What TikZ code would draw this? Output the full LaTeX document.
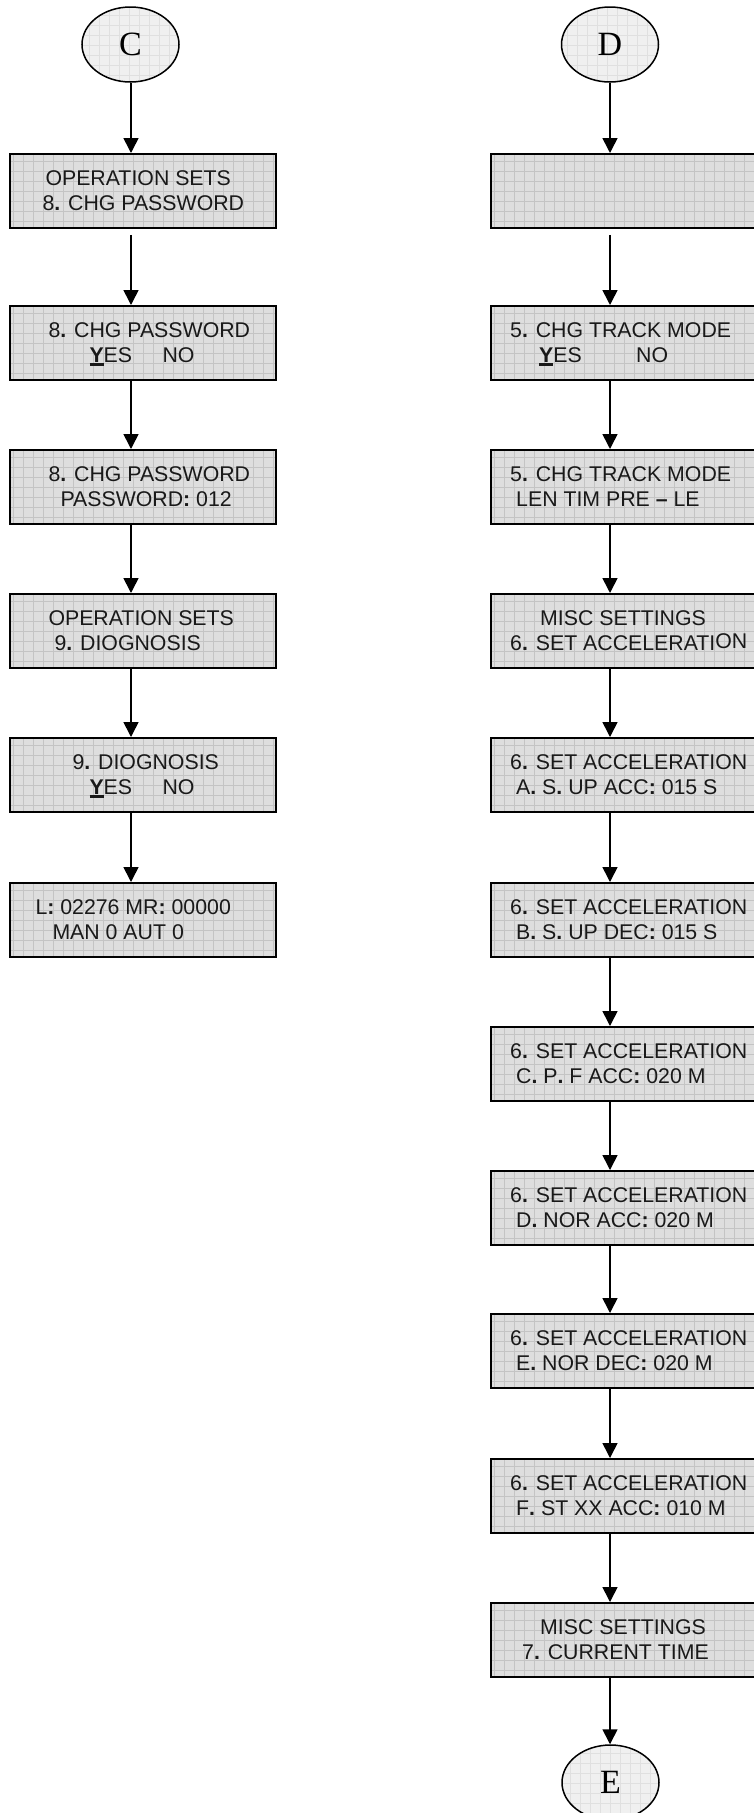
\documentclass[tikz,border=0pt]{standalone}
\usepackage{fontspec}
\setmainfont{Liberation Sans}
\newfontfamily\connfont{Liberation Serif}
\usetikzlibrary{arrows.meta,shapes.geometric}

% underlined bold "Y" used for the YES option
\newcommand\ulY{\setbox0\hbox{\textbf{Y}}\rlap{\rule[-3.5pt]{\wd0}{2.6pt}}\box0}
% bold punctuation as shown on the panel display
\newcommand\bp{\textbf{.}}
\newcommand\bc{\textbf{:}}

% two text lines inside a display box: #1 box, #2/#4 left offsets, #3/#5 texts
\newcommand\twolines[5]{%
  \node[txt] (#1-a) at ([xshift=#2pt,yshift=-32pt]#1.north west) {#3};
  \node[txt] (#1-b) at ([xshift=#4pt,yshift=-57pt]#1.north west) {#5};
}

\tikzset{
  screen/.style={draw=black, line width=1.8pt, fill=black!13,
    minimum width=266pt, minimum height=74pt, inner sep=0pt, anchor=north west,
    path picture={\draw[black!23, line width=0.7pt, step=10pt]
      (path picture bounding box.south west) grid (path picture bounding box.north east);}},
  connector/.style={ellipse, draw=black, line width=1.5pt, fill=black!6,
    minimum width=97pt, minimum height=75pt, inner sep=0pt,
    font=\connfont\fontsize{34pt}{36pt}\selectfont,
    path picture={\draw[black!12, line width=0.6pt, step=10pt]
      (path picture bounding box.south west) grid (path picture bounding box.north east);}},
  txt/.style={anchor=base west, inner sep=0pt, font=\fontsize{21.3pt}{25pt}\selectfont, text=black!90},
  flow/.style={draw=black, line width=1.6pt, -{Triangle[length=15pt,width=15pt]}},
}

\begin{document}
\begin{tikzpicture}[x=1pt,y=-1pt]
  \fill[white] (0,0) rectangle (754,1813);
  \useasboundingbox (0,0) rectangle (754,1813);

  \coordinate (colL) at (131,0);
  \coordinate (colR) at (610,0);

  % ---- left column: password change and diagnosis ----
  \node[connector] (C) at (130.5,44.5) {C};
  \node[screen] (L1) at (9.3,153) {};
  \node[screen] (L2) at (9.3,305) {};
  \node[screen] (L3) at (9.3,449) {};
  \node[screen] (L4) at (9.3,593) {};
  \node[screen] (L5) at (9.3,737) {};
  \node[screen] (L6) at (9.3,882) {};

  \twolines{L1}{36}{OPERATION SETS}{33}{8\bp{} CHG PASSWORD}
  \twolines{L2}{39}{8\bp{} CHG PASSWORD}{80}{\ulY ES\hspace{30.4pt}NO}
  \twolines{L3}{39}{8\bp{} CHG PASSWORD}{51}{PASSWORD\bc{} 012}
  \twolines{L4}{39}{OPERATION SETS}{45}{9\bp{} DIOGNOSIS}
  \twolines{L5}{63}{9\bp{} DIOGNOSIS}{80}{\ulY ES\hspace{30.4pt}NO}
  \twolines{L6}{26}{L\bc{} 02276 MR\bc{} 00000}{43}{MAN 0 AUT 0}

  \draw[flow] (C.south -| colL) -- (L1.north -| colL);
  \draw[flow] ([yshift=-6pt]L1.south -| colL) -- (L2.north -| colL);
  \draw[flow] (L2.south -| colL) -- (L3.north -| colL);
  \draw[flow] (L3.south -| colL) -- (L4.north -| colL);
  \draw[flow] (L4.south -| colL) -- (L5.north -| colL);
  \draw[flow] (L5.south -| colL) -- (L6.north -| colL);

  % ---- right column: track mode and acceleration settings ----
  \node[connector] (D) at (610,44.5) {D};
  \node[screen] (R1) at (490,153) {};
  \node[screen] (R2) at (490,305) {};
  \node[screen] (R3) at (490,449) {};
  \node[screen] (R4) at (490,593) {};
  \node[screen] (R5) at (490,737) {};
  \node[screen] (R6) at (490,882) {};
  \node[screen] (R7) at (490,1026) {};
  \node[screen] (R8) at (490,1170) {};
  \node[screen] (R9) at (490,1313) {};
  \node[screen] (R10) at (490,1458) {};
  \node[screen] (R11) at (490,1602) {};
  \node[connector] (E) at (610.5,1782.5) {E};

  \twolines{R2}{20}{5\bp{} CHG TRACK MODE}{49}{\ulY ES\hspace{54.4pt}NO}
  \twolines{R3}{20}{5\bp{} CHG TRACK MODE}{26}{LEN TIM PRE \textbf{--} LE}
  \twolines{R4}{50}{MISC SETTINGS}{20}{6\bp{} SET ACCELERATI\raisebox{2pt}{ON}}
  \twolines{R5}{20}{6\bp{} SET ACCELERATION}{26}{A\bp{} S\bp{} UP ACC\bc{} 015 S}
  \twolines{R6}{20}{6\bp{} SET ACCELERATION}{26}{B\bp{} S\bp{} UP DEC\bc{} 015 S}
  \twolines{R7}{20}{6\bp{} SET ACCELERATION}{26}{C\bp{} P\bp{} F ACC\bc{} 020 M}
  \twolines{R8}{20}{6\bp{} SET ACCELERATION}{26}{D\bp{} NOR ACC\bc{} 020 M}
  \twolines{R9}{20}{6\bp{} SET ACCELERATION}{26}{E\bp{} NOR DEC\bc{} 020 M}
  \twolines{R10}{20}{6\bp{} SET ACCELERATION}{26}{F\bp{} ST XX ACC\bc{} 010 M}
  \twolines{R11}{50}{MISC SETTINGS}{32}{7\bp{} CURRENT TIME}

  \draw[flow] (D.south -| colR) -- (R1.north -| colR);
  \draw[flow] ([yshift=-6pt]R1.south -| colR) -- (R2.north -| colR);
  \draw[flow] (R2.south -| colR) -- (R3.north -| colR);
  \draw[flow] (R3.south -| colR) -- (R4.north -| colR);
  \draw[flow] (R4.south -| colR) -- (R5.north -| colR);
  \draw[flow] (R5.south -| colR) -- (R6.north -| colR);
  \draw[flow] (R6.south -| colR) -- (R7.north -| colR);
  \draw[flow] (R7.south -| colR) -- (R8.north -| colR);
  \draw[flow] (R8.south -| colR) -- (R9.north -| colR);
  \draw[flow] (R9.south -| colR) -- (R10.north -| colR);
  \draw[flow] (R10.south -| colR) -- (R11.north -| colR);
  \draw[flow] (R11.south -| colR) -- (E.north -| colR);
\end{tikzpicture}
\end{document}
